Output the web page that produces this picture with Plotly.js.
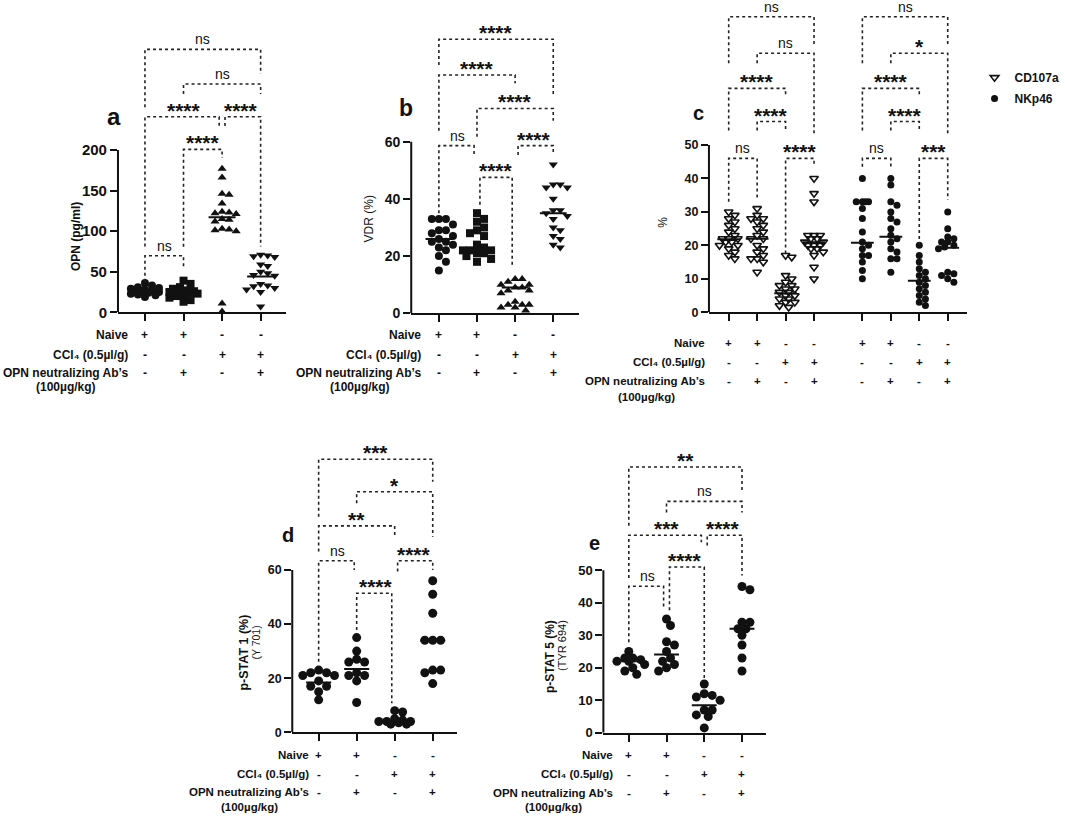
<!DOCTYPE html>
<html><head><meta charset="utf-8">
<script src="https://cdn.plot.ly/plotly-3.0.1.min.js"></script>
<style>html,body{margin:0;padding:0;background:#fff}#chart{width:1065px;height:816px}</style>
</head><body><div id="chart"></div>
<script>
// ================= DATA =================
const rowLabels = ["Naive", "CCl₄ (0.5µl/g)", "OPN neutralizing Ab’s"];
const doseNote = "(100µg/kg)";
const naiveSigns = ["+", "+", "-", "-"];
const ccl4Signs = ["-", "-", "+", "+"];
const abSigns = ["-", "+", "-", "+"];
const legendNames = ["CD107a", "NKp46"];
const panelLetters = ["a", "b", "c", "d", "e"];
const yTitles = ["OPN (pg/ml)", "VDR (%)", "%", "p-STAT 1 (%)", "p-STAT 5 (%)"];
const ySubTitles = ["", "", "", "(Y 701)", "(TYR 694)"];

// panel a : OPN (pg/ml)
const aNaive = [36, 33, 31, 30, 29, 28, 27, 27, 26, 25, 24, 23, 22, 21, 19];
const aAb = [39, 35, 31, 29, 27, 26, 25, 25, 24, 23, 22, 20, 18, 15, 13];
const aCcl4 = [177, 166, 146, 145, 134, 124, 123, 122, 121, 115, 114, 112, 103, 102, 101, 100, 11, 1];
const aCcl4Ab = [71, 70, 69, 68, 59, 57, 50, 48, 46, 45, 35, 33, 32, 30, 28, 25, 7];
const aMedians = [27, 25.5, 117, 44];
const aTicks = [0, 50, 100, 150, 200];
const aPairs = [[0, 1], [1, 2], [0, 2], [2, 3], [1, 3], [0, 3]];
const aTops = [69.7, 200.8, 241, 241, 281.3, 324];
const aLeftEnds = [37.7, 80.9, 81, 229.6, 269, 252.6];
const aRightEnds = [53, 190, 229.6, 81, 269, 293.6];
const aLabels = ["ns", "****", "****", "****", "ns", "ns"];

// panel b : VDR (%)
const bNaive = [33, 33, 33, 31, 29, 29, 28, 27, 26, 25, 25, 24, 23, 22, 20, 18, 15];
const bAb = [35, 33, 32, 30, 29, 28, 27, 24, 23, 22, 22, 22, 21, 21, 20, 19, 18];
const bCcl4 = [12, 12, 11, 10, 10, 9, 9, 8, 8, 7, 4, 3, 3, 3, 2, 2, 1];
const bCcl4Ab = [52, 45, 45, 44, 44, 40, 36, 36, 35, 34, 33, 30, 29, 27, 26, 24, 23];
const bMedians = [26, 22.5, 9, 35];
const bTicks = [0, 20, 40, 60];
const bPairs = [[0, 1], [1, 2], [2, 3], [1, 3], [0, 2], [0, 3]];
const bTops = [58.6, 47.5, 58.6, 71.6, 83.3, 95.8];
const bLeftEnds = [35, 37.9, 55.3, 61.7, 63.8, 86.8];
const bRightEnds = [55.3, 16.3, 55.3, 67.3, 80.4, 75.7];
const bLabels = ["ns", "****", "****", "****", "****", "****"];

// panel c : % (CD107a, NKp46)
const cCdNaive = [30, 29, 28, 27, 26, 25, 24, 23, 22, 22, 22, 21, 21, 20, 20, 19, 18, 17, 16];
const cCdAb = [31, 29, 28, 28, 27, 26, 25, 24, 23, 22, 22, 20, 19, 18, 17, 16, 16, 15, 12];
const cCdCcl4 = [17, 16.5, 11, 10, 9, 8, 8, 7, 7, 6, 6, 5, 5, 4, 4, 3, 3, 2, 1.5];
const cCdCcl4Ab = [40, 35.5, 33, 23, 23, 23, 22, 22, 21, 21, 20, 20, 20, 19, 19, 18, 17, 13.5, 10];
const cCdMedians = [21.8, 22, 5.7, 20.9];
const cNkNaive = [40, 33, 33, 33, 33, 31, 28, 24, 21, 20, 19, 17, 17, 15, 12.5, 10];
const cNkAb = [40, 38, 33, 32, 30, 28, 27, 25, 23, 22, 21, 19, 18, 16, 16, 12];
const cNkCcl4 = [20, 17, 15, 13, 12, 11, 10, 9, 8, 7, 6, 5, 4, 3, 2];
const cNkCcl4Ab = [30, 25, 22.5, 22, 21, 21, 20, 19.5, 19, 12, 11.5, 11, 10, 9];
const cNkMedians = [20.8, 22.6, 9.4, 19.3];
const cTicks = [0, 10, 20, 30, 40, 50];
const cPairs = [[0, 1], [2, 3], [1, 2], [0, 2], [1, 3], [0, 3], [4, 5], [6, 7], [5, 6], [4, 6], [5, 7], [4, 7]];
const cTops = [46, 46, 57, 66.9, 77.4, 88.3, 46, 46, 57, 66.9, 77.4, 88.3];
const cLeftEnds = [33, 17.6, 54.3, 54.3, 74.4, 74.4, 43.5, 20.1, 54.3, 54.3, 74.4, 74.4];
const cRightEnds = [34, 44, 54.3, 64.4, 53, 79.9, 43.5, 33.6, 54.3, 64.4, 53, 79.9];
const cLabels = ["ns", "****", "****", "****", "ns", "ns", "ns", "***", "****", "****", "*", "ns"];

// panel d : p-STAT 1 (%)
const dNaive = [23, 22, 22, 21, 21, 19, 17, 17, 15, 12];
const dAb = [35, 30, 27, 26, 26, 22, 21, 21, 19, 11];
const dCcl4 = [8, 7.5, 5, 4.5, 4, 4, 4, 3.5, 3, 3];
const dCcl4Ab = [56, 51, 44, 34, 34, 34, 23, 23, 22, 18];
const dMedians = [18.4, 23.4, 4, 33.9];
const dTicks = [0, 20, 40, 60];
const dPairs = [[0, 1], [1, 2], [2, 3], [0, 2], [1, 3], [0, 3]];
const dTops = [63.4, 51.4, 63.4, 76.3, 88.9, 100.9];
const dLeftEnds = [26.1, 37.8, 59.4, 66.8, 84.6, 79.7];
const dRightEnds = [60, 10.7, 60, 72.3, 72.3, 92.6];
const dLabels = ["ns", "****", "****", "**", "*", "***"];

// panel e : p-STAT 5 (%)
const eNaive = [25, 23, 23, 22.5, 22, 22, 21, 20, 19, 18];
const eAb = [35, 33, 28, 27, 25, 23, 22, 21, 20, 19];
const eCcl4 = [15, 12, 11.5, 11, 10, 7, 7, 5.5, 5, 1.5];
const eCcl4Ab = [45, 44, 34, 34, 32, 32, 30, 27, 23, 19];
const eMedians = [22, 24.1, 8.5, 32];
const eTicks = [0, 10, 20, 30, 40, 50];
const ePairs = [[0, 1], [1, 2], [0, 2], [2, 3], [1, 3], [0, 3]];
const eTops = [45.1, 51, 60.8, 60.8, 71.2, 81.8];
const eLeftEnds = [27.9, 37.7, 47.6, 57.6, 67.8, 63.7];
const eRightEnds = [38.1, 15.9, 58.6, 48.4, 67.8, 74.3];
const eLabels = ["ns", "****", "***", "****", "ns", "**"];

// ================= LAYOUT / STYLE =================
const W = 1065, H = 816;
const FONT = "Liberation Sans, Arial, Helvetica, sans-serif";
const INK = "#111";
const px = v => v / W;
const py = v => 1 - v / H;

const panels = [
  { groups: [[aNaive, "circle"], [aAb, "square"], [aCcl4, "triangle-up"], [aCcl4Ab, "triangle-down"]],
    medians: aMedians, ticks: aTicks, pairs: aPairs, tops: aTops, le: aLeftEnds, re: aRightEnds, labels: aLabels,
    g: { left: 120.7, right: 293, zeroY: 312.3, ppu: 0.8115, topVal: 335, cat0: 148.3, sp: 39.45, tickFont: 15, msize: 8, medW: 0.35,
         shifts: [[0, 0], [0, 0], [0, -3], [3, 0], [0, 0], [0, 0]],
         letter: [117, 117, 24], title: [78, 93, 12, "bold"], sub: null,
         rowRight: 133, rowsY: [335, 355, 372.7, 386.7], rowFont: 12 } },
  { groups: [[bNaive, "circle"], [bAb, "square"], [bCcl4, "triangle-up"], [bCcl4Ab, "triangle-down"]],
    medians: bMedians, ticks: bTicks, pairs: bPairs, tops: bTops, le: bLeftEnds, re: bRightEnds, labels: bLabels,
    g: { left: 420.7, right: 592.7, zeroY: 313.3, ppu: 2.861, topVal: 98, cat0: 449, sp: 39, tickFont: 14, msize: 8, medW: 0.35,
         shifts: [[0, -3], [3, -3], [3, 0], [0, 0], [0, 0], [0, 0]],
         letter: [415, 108, 23], title: [377, 33, 12, "normal"], sub: null,
         rowRight: 433, rowsY: [334.5, 354.5, 372.7, 386.7], rowFont: 12 } },
  { groups: [[cCdNaive, "triangle-down-open", 0], [cCdAb, "triangle-down-open", 0], [cCdCcl4, "triangle-down-open", 0], [cCdCcl4Ab, "triangle-down-open", 0],
             [cNkNaive, "circle", 1], [cNkAb, "circle", 1], [cNkCcl4, "circle", 1], [cNkCcl4Ab, "circle", 1]],
    medians: cCdMedians.concat(cNkMedians), ticks: cTicks, pairs: cPairs, tops: cTops, le: cLeftEnds, re: cRightEnds, labels: cLabels,
    g: { left: 725.3, right: 989, zeroY: 312.3, ppu: 3.347, topVal: 90, cat0: 745.5, sp: 29.1, tickFont: 12.5, msize: 7, medW: 0.4,
         cols: [0, 1, 2, 3, 4.7, 5.7, 6.7, 7.7], shifts: null,
         letter: [714.7, 113.3, 20], title: [678, 27, 12, "normal"], sub: null,
         rowRight: 723.5, rowsY: [343.3, 362.3, 381, 396.7], rowFont: 11.5 } },
  { groups: [[dNaive, "circle"], [dAb, "circle"], [dCcl4, "circle"], [dCcl4Ab, "circle"]],
    medians: dMedians, ticks: dTicks, pairs: dPairs, tops: dTops, le: dLeftEnds, re: dRightEnds, labels: dLabels,
    g: { left: 299, right: 467.3, zeroY: 732.3, ppu: 2.706, topVal: 102, cat0: 326, sp: 38.9, tickFont: 12.5, msize: 9, medW: 0.33,
         shifts: [[0, -2.5], [0, -3], [3, 0], [0, 0], [0, 0], [0, 0]],
         letter: [295, 535, 20], title: [250, 29.6, 12.5, "bold"], sub: [262, 33.2, 10.5],
         rowRight: 318, rowsY: [755, 774.3, 791.7, 806.7], rowFont: 11.5 } },
  { groups: [[eNaive, "circle"], [eAb, "circle"], [eCcl4, "circle"], [eCcl4Ab, "circle"]],
    medians: eMedians, ticks: eTicks, pairs: ePairs, tops: eTops, le: eLeftEnds, re: eRightEnds, labels: eLabels,
    g: { left: 617.3, right: 784, zeroY: 732.8, ppu: 3.25, topVal: 83, cat0: 643.3, sp: 38.6, tickFont: 13, msize: 9, medW: 0.33,
         shifts: [[0, -3], [3, 0], [0, -3], [3, 0], [0, 0], [0, 0]],
         letter: [608.3, 543.3, 20], title: [563.3, 23.5, 12, "bold"], sub: [575.5, 26.9, 11],
         rowRight: 629, rowsY: [755, 774.3, 792.7, 806.7], rowFont: 11.5 } }
];

// simple deterministic beeswarm (pixel space), allowing some overlap
function swarm(vals, ppu, spPx, msz) {
  const order = vals.map((v, i) => i).sort((a, b) => vals[b] - vals[a]);
  const placed = [];
  const off = new Array(vals.length).fill(0);
  const step = msz * 0.45, minD = msz * 0.85, cap = spPx * 0.42;
  for (const i of order) {
    const y = vals[i] * ppu;
    let best = 0, bestD = -1;
    for (let k = 0; k < 60; k++) {
      const cand = k === 0 ? 0 : (k % 2 ? 1 : -1) * Math.ceil(k / 2) * step;
      if (Math.abs(cand) > cap) break;
      let dmin = Infinity;
      placed.forEach(p => { dmin = Math.min(dmin, Math.hypot(p.x - cand, p.y - y)); });
      if (dmin >= minD) { best = cand; break; }
      if (dmin > bestD) { bestD = dmin; best = cand; }
    }
    placed.push({ x: best, y: y });
    off[i] = best / spPx;
  }
  return off;
}

const traces = [], shapes = [], annotations = [];
const layout = {
  width: W, height: H, margin: { l: 0, r: 0, t: 0, b: 0 },
  paper_bgcolor: "#fff", plot_bgcolor: "rgba(0,0,0,0)",
  font: { family: FONT, color: INK },
  showlegend: true,
  legend: { x: px(997), y: py(63), xanchor: "left", yanchor: "top", bgcolor: "rgba(0,0,0,0)",
            font: { family: FONT, size: 12, weight: "bold", color: INK },
            traceorder: "grouped", tracegroupgap: 2, itemwidth: 30 },
  shapes: shapes, annotations: annotations
};

const legendShown = {};
panels.forEach((p, k) => {
  const g = p.g;
  const s = k === 0 ? "" : String(k + 1);
  const xa = "x" + s, ya = "y" + s;
  const cols = g.cols || p.groups.map((_, i) => i);
  const xr = [(g.left - g.cat0) / g.sp, (g.right - g.cat0) / g.sp];
  const topPx = g.zeroY - g.topVal * g.ppu;
  layout["xaxis" + s] = {
    domain: [px(g.left), px(g.right)], range: xr, anchor: ya, fixedrange: true,
    showline: true, linecolor: INK, linewidth: 2, showgrid: false, zeroline: false,
    ticks: "outside", ticklen: 7, tickwidth: 2, tickcolor: INK, tickvals: cols, showticklabels: false
  };
  layout["yaxis" + s] = {
    domain: [py(g.zeroY), py(topPx)], range: [0, g.topVal], anchor: xa, fixedrange: true,
    showline: false, showgrid: false, zeroline: false,
    ticks: "outside", ticklen: 7, tickwidth: 2, tickcolor: INK, tickvals: p.ticks, ticktext: p.ticks.map(String),
    tickfont: { family: FONT, size: g.tickFont, weight: "bold", color: INK }
  };
  // y axis line only up to the top tick
  shapes.push({ type: "line", xref: "paper", yref: ya, x0: px(g.left), x1: px(g.left),
                y0: 0, y1: p.ticks[p.ticks.length - 1], line: { color: INK, width: 2 } });

  // points
  p.groups.forEach((grp, i) => {
    const vals = grp[0], sym = grp[1];
    const off = swarm(vals, g.ppu, g.sp, g.msize);
    const open = sym.indexOf("open") >= 0;
    const tr = {
      type: "scatter", mode: "markers", xaxis: xa, yaxis: ya, cliponaxis: false, hoverinfo: "skip",
      x: vals.map((v, j) => cols[i] + off[j]), y: vals,
      marker: { symbol: sym, size: open ? g.msize + 0.5 : g.msize, color: INK,
                line: { color: INK, width: open ? 1.6 : 0 } },
      showlegend: false
    };
    if (grp.length > 2) {
      const li = grp[2];
      tr.name = legendNames[li];
      tr.legendgroup = legendNames[li];
      if (!legendShown[li]) { tr.showlegend = true; legendShown[li] = true; }
    }
    traces.push(tr);
  });
  // median lines
  const mx = [], my = [];
  p.medians.forEach((m, i) => { mx.push(cols[i] - g.medW, cols[i] + g.medW, null); my.push(m, m, null); });
  traces.push({ type: "scatter", mode: "lines", xaxis: xa, yaxis: ya, x: mx, y: my, cliponaxis: false,
                line: { color: INK, width: 2 }, hoverinfo: "skip", showlegend: false });

  // significance brackets
  p.pairs.forEach((pr, b) => {
    const sh = g.shifts ? g.shifts[b] : [0, 0];
    const x1 = cols[pr[0]] + sh[0] / g.sp, x2 = cols[pr[1]] + sh[1] / g.sp;
    const top = p.tops[b];
    shapes.push({ type: "path", xref: xa, yref: ya,
      path: `M ${x1},${p.le[b]} L ${x1},${top} L ${x2},${top} L ${x2},${p.re[b]}`,
      line: { color: "#222", width: 1.6, dash: "dot" } });
    const isStar = p.labels[b].indexOf("*") >= 0;
    annotations.push({ xref: xa, yref: ya, x: (cols[pr[0]] + cols[pr[1]]) / 2, y: top,
      text: p.labels[b], showarrow: false, xanchor: "center", yanchor: "bottom",
      yshift: isStar ? -7 : 0,
      font: isStar ? { family: FONT, size: 21, weight: "bold", color: INK } : { family: FONT, size: 14, color: INK } });
  });

  // panel letter
  annotations.push({ xref: "paper", yref: "paper", x: px(g.letter[0]), y: py(g.letter[1]), text: panelLetters[k],
    showarrow: false, xanchor: "center", yanchor: "middle", font: { family: FONT, size: g.letter[2], weight: "bold", color: INK } });
  // y title(s)
  annotations.push({ xref: "paper", yref: ya, x: px(g.title[0]), y: g.title[1], text: yTitles[k], textangle: -90,
    showarrow: false, xanchor: "center", yanchor: "middle", font: { family: FONT, size: g.title[2], weight: g.title[3], color: INK } });
  if (g.sub) annotations.push({ xref: "paper", yref: ya, x: px(g.sub[0]), y: g.sub[1], text: ySubTitles[k], textangle: -90,
    showarrow: false, xanchor: "center", yanchor: "middle", font: { family: FONT, size: g.sub[2], color: INK } });

  // treatment rows
  const rf = { family: FONT, size: g.rowFont, weight: "bold", color: INK };
  rowLabels.forEach((lab, r) => {
    annotations.push({ xref: "paper", yref: "paper", x: px(g.rowRight), y: py(g.rowsY[r]), text: lab,
      showarrow: false, xanchor: "right", yanchor: "middle", font: rf });
  });
  annotations.push({ xref: "paper", yref: "paper", x: px(g.rowRight - 65 * g.rowFont / 12), y: py(g.rowsY[3]), text: doseNote,
    showarrow: false, xanchor: "center", yanchor: "middle", font: rf });
  [naiveSigns, ccl4Signs, abSigns].forEach((signs, r) => {
    cols.forEach((c, i) => {
      annotations.push({ xref: xa, yref: "paper", x: c, y: py(g.rowsY[r]), text: signs[i % 4],
        showarrow: false, xanchor: "center", yanchor: "middle", font: rf });
    });
  });
});

Plotly.newPlot("chart", traces, layout, { displayModeBar: false, staticPlot: true });
</script>
</body></html>
